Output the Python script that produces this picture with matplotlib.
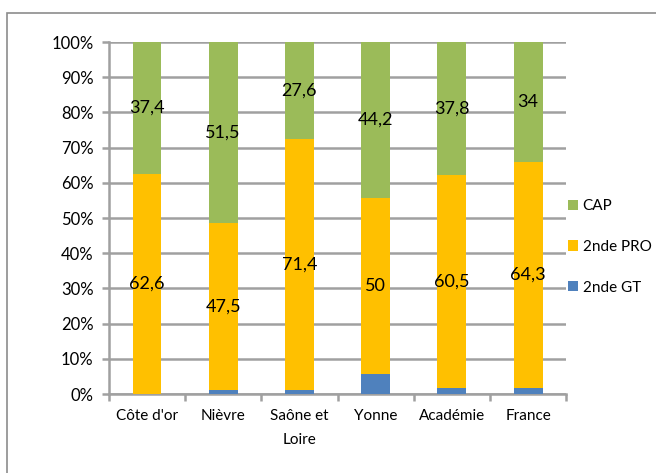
import matplotlib.pyplot as plt
import numpy as np
from matplotlib.patches import Rectangle

# data
categories = ["Côte d'or", "Nièvre", "Saône et\nLoire", "Yonne", "Académie", "France"]
gt = [0, 1, 1, 5.8, 1.7, 1.7]
pro = [62.6, 47.5, 71.4, 50, 60.5, 64.3]
cap = [37.4, 51.5, 27.6, 44.2, 37.8, 34]
pro_labels = ["62,6", "47,5", "71,4", "50", "60,5", "64,3"]
cap_labels = ["37,4", "51,5", "27,6", "44,2", "37,8", "34"]

plt.rcParams['font.family'] = ['Lato', 'DejaVu Sans']

fig = plt.figure(figsize=(6.56, 4.73), dpi=100)
ax = fig.add_axes([0.166, 0.167, 0.697, 0.744])

# outer chart frame
fig.patches.append(Rectangle((7 / 656, -0.1), 1.2, 1 - 13 / 473 + 0.1,
                             transform=fig.transFigure, fill=False,
                             edgecolor='#8c8c8c', linewidth=1.2))

x = np.arange(len(categories))
w = 0.38
ax.bar(x, gt, w, color='#4F81BD', label='2nde GT', zorder=3)
ax.bar(x, pro, w, bottom=gt, color='#FFC000', label='2nde PRO', zorder=3)
bottom_cap = [a + b for a, b in zip(gt, pro)]
ax.bar(x, cap, w, bottom=bottom_cap, color='#9BBB59', label='CAP', zorder=3)

for i in range(len(categories)):
    ax.text(x[i], gt[i] + pro[i] / 2, pro_labels[i], ha='center', va='center',
            fontsize=13, zorder=4)
    ax.text(x[i], bottom_cap[i] + cap[i] / 2, cap_labels[i], ha='center', va='center',
            fontsize=13, zorder=4)

ax.set_xlim(-0.5, len(categories) - 0.5)
ax.set_ylim(0, 100)
ax.set_yticks(np.arange(0, 101, 10))
ax.set_yticklabels([f"{v}%" for v in range(0, 101, 10)], fontsize=12)
ax.set_xticks(x)
ax.set_xticklabels(categories, fontsize=11, linespacing=1.9)
ax.set_xticks(np.arange(-0.5, len(categories), 1), minor=True)
ax.tick_params(axis='x', which='major', length=0, pad=11)
ax.tick_params(axis='x', which='minor', length=5, color='#a0a0a0', width=1.8)
ax.tick_params(axis='y', length=5, color='#a0a0a0', width=1.8, pad=6)

ax.grid(axis='y', color='#a0a0a0', linewidth=1.8, zorder=0)
for s in ['top', 'right']:
    ax.spines[s].set_visible(False)
for s in ['left', 'bottom']:
    ax.spines[s].set_color('#a0a0a0')
    ax.spines[s].set_linewidth(1.8)

handles, labels = ax.get_legend_handles_labels()
leg = fig.legend(handles[::-1], labels[::-1], loc='center left',
                 bbox_to_anchor=(0.845, 0.478), frameon=False, fontsize=11,
                 handlelength=0.65, handleheight=0.65, labelspacing=1.75,
                 handletextpad=0.3)

fig.savefig('out.png', dpi=100)
